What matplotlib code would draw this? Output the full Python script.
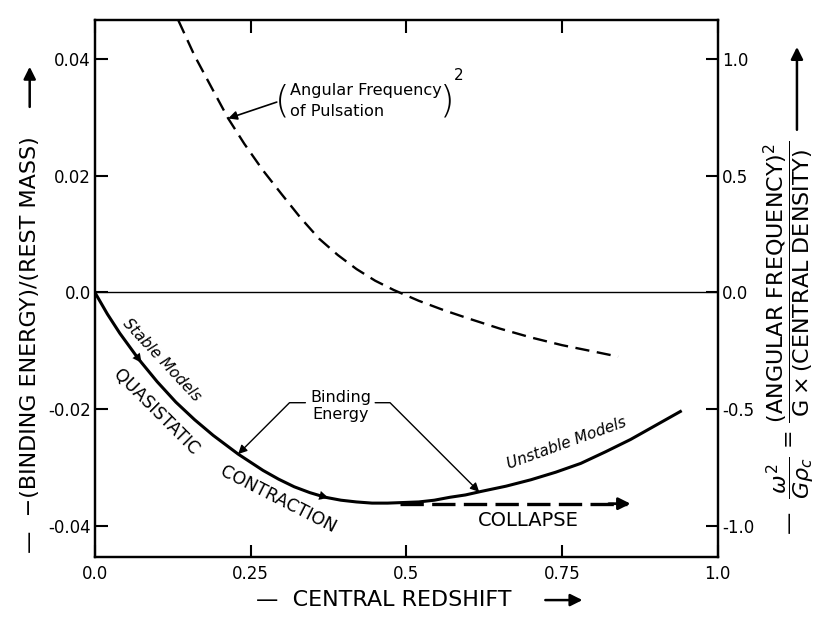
import matplotlib
matplotlib.use('Agg')
import matplotlib.pyplot as plt
import numpy as np

# binding energy / rest mass against central redshift (left axis)
redshift_be = [0.0, 0.02, 0.04, 0.07, 0.10, 0.13, 0.16, 0.19, 0.23, 0.27,
               0.295, 0.32, 0.345, 0.37, 0.395, 0.42, 0.445, 0.47, 0.495,
               0.52, 0.545, 0.57, 0.595, 0.62, 0.66, 0.70, 0.74, 0.78, 0.82,
               0.86, 0.90, 0.94]
binding_energy = [0.0, -0.0037, -0.0070, -0.0114, -0.0153, -0.0188, -0.0218,
                  -0.0245, -0.0277, -0.0305, -0.0320, -0.0333, -0.0343,
                  -0.0351, -0.0356, -0.0359, -0.0361, -0.0361, -0.0360,
                  -0.0359, -0.0356, -0.0351, -0.0347, -0.0341, -0.0332,
                  -0.0321, -0.0308, -0.0293, -0.0273, -0.0252, -0.0228, -0.0204]

# (angular frequency)^2 / (G rho_c) of pulsation (right axis)
redshift_w2 = [0.134, 0.16, 0.19, 0.214, 0.24, 0.27, 0.30, 0.33, 0.36, 0.39,
               0.42, 0.45, 0.48, 0.52, 0.56, 0.60, 0.65, 0.70, 0.75, 0.80, 0.84]
omega_sq = [1.165, 1.014, 0.864, 0.745, 0.636, 0.522, 0.42, 0.32, 0.23, 0.16,
            0.10, 0.05, 0.01, -0.036, -0.076, -0.112, -0.155, -0.193, -0.226,
            -0.253, -0.275]

# collapse path (left axis)
collapse_x = [0.49, 0.855]
collapse_y = [-0.0362, -0.0362]

x_ticks = [0.0, 0.25, 0.5, 0.75, 1.0]
x_tick_labels = ['0.0', '0.25', '0.5', '0.75', '1.0']
left_ticks = [0.04, 0.02, 0.0, -0.02, -0.04]
left_tick_labels = ['0.04', '0.02', '0.0', '-0.02', '-0.04']
right_ticks = [1.0, 0.5, 0.0, -0.5, -1.0]
right_tick_labels = ['1.0', '0.5', '0.0', '-0.5', '-1.0']

left_lim = (-0.0453, 0.0467)
right_scale = 25.0  # right axis units per left axis unit

fig = plt.figure(figsize=(8.25, 6.18), dpi=100)
ax = fig.add_axes([0.115, 0.099, 0.755, 0.869])
ax2 = ax.twinx()

ax.set_xlim(0, 1.0)
ax.set_ylim(*left_lim)
ax2.set_ylim(left_lim[0] * right_scale, left_lim[1] * right_scale)

for a in (ax, ax2):
    for sp in a.spines.values():
        sp.set_linewidth(1.6)

ax.set_xticks(x_ticks, x_tick_labels)
ax.set_yticks(left_ticks, left_tick_labels)
ax2.set_yticks(right_ticks, right_tick_labels)
ax.tick_params(direction='in', length=9, width=1.5, labelsize=12, pad=3, top=True)
ax.tick_params(axis='x', pad=6)
ax2.tick_params(direction='in', length=9, width=1.5, labelsize=12, pad=3)

# zero line
ax.axhline(0, color='black', lw=1.0)

# binding energy
ax.plot(redshift_be, binding_energy, color='black', lw=2.2)

# arrowheads along binding energy curve
for xa, xb in [(0.055, 0.075), (0.35, 0.375)]:
    ax.annotate('', xy=(xb, np.interp(xb, redshift_be, binding_energy)),
                xytext=(xa, np.interp(xa, redshift_be, binding_energy)),
                arrowprops=dict(arrowstyle='-|>', color='black', lw=0.1,
                                mutation_scale=16, shrinkA=0, shrinkB=0))

# pulsation frequency squared
ax2.plot(redshift_w2, omega_sq, color='black', lw=1.7, dashes=(6, 3.2))

# collapse
ax.plot(collapse_x, collapse_y, color='black', lw=2.4, dashes=(7, 2.5))
ax.annotate('', xy=(collapse_x[1] + 0.005, collapse_y[1]),
            xytext=(collapse_x[1] - 0.03, collapse_y[1]),
            arrowprops=dict(arrowstyle='-|>', color='black', lw=2.0,
                            mutation_scale=18, shrinkA=0, shrinkB=0))

# text on the curves
ax.text(0.108, -0.0116, 'Stable Models', rotation=-47, fontsize=11,
        style='italic', ha='center', va='center', rotation_mode='anchor')
ax.text(0.098, -0.0205, 'QUASISTATIC', rotation=-45, fontsize=12.5,
        ha='center', va='center', rotation_mode='anchor')
ax.text(0.295, -0.0355, 'CONTRACTION', rotation=-27, fontsize=12.5,
        ha='center', va='center', rotation_mode='anchor')
ax.text(0.758, -0.0258, 'Unstable Models', rotation=20, fontsize=11,
        style='italic', ha='center', va='center', rotation_mode='anchor')
ax.text(0.696, -0.0390, 'COLLAPSE', fontsize=14, ha='center', va='center')

# binding energy label with two bent arrows
ax.text(0.395, -0.0195, 'Binding\nEnergy', fontsize=11.5, ha='center',
        va='center', linespacing=1.15)
ax.annotate('', xy=(0.23, np.interp(0.23, redshift_be, binding_energy)),
            xytext=(0.338, -0.0189),
            arrowprops=dict(arrowstyle='-|>', color='black', lw=1.0,
                            mutation_scale=13, shrinkA=0, shrinkB=0,
                            connectionstyle='angle,angleA=0,angleB=45,rad=0'))
ax.annotate('', xy=(0.617, np.interp(0.617, redshift_be, binding_energy)),
            xytext=(0.450, -0.0189),
            arrowprops=dict(arrowstyle='-|>', color='black', lw=1.0,
                            mutation_scale=13, shrinkA=0, shrinkB=0,
                            connectionstyle='angle,angleA=0,angleB=-45,rad=0'))

# pulsation label
ax.text(0.313, 0.0328, 'Angular Frequency\nof Pulsation', fontsize=11.6,
        ha='left', va='center', linespacing=1.45)
ax.text(0.301, 0.0328, '(', fontsize=27, ha='center', va='center',
        fontweight='light')
ax.text(0.566, 0.0328, ')', fontsize=27, ha='center', va='center',
        fontweight='light')
ax.text(0.584, 0.0372, '2', fontsize=11, ha='center', va='center')
x_tip = 0.214
ax.annotate('', xy=(x_tip, np.interp(x_tip, redshift_w2, omega_sq) / right_scale),
            xytext=(0.292, 0.0326),
            arrowprops=dict(arrowstyle='-|>', color='black', lw=1.2,
                            mutation_scale=13, shrinkA=0, shrinkB=0))


def fig_arrow(start, end):
    ax.annotate('', xy=end, xytext=start, xycoords='figure fraction',
                textcoords='figure fraction', annotation_clip=False,
                arrowprops=dict(arrowstyle='-|>', color='black', lw=1.8,
                                mutation_scale=18, shrinkA=0, shrinkB=0))


# axis labels
fig.text(0.036, 0.442, '—  \u2212(BINDING ENERGY)/(REST MASS)', rotation=90,
         fontsize=16, ha='center', va='center')
fig_arrow((0.036, 0.827), (0.036, 0.892))

fig.text(0.465, 0.029, '—  CENTRAL REDSHIFT', fontsize=16,
         ha='center', va='center')
fig_arrow((0.661, 0.029), (0.706, 0.029))

fig.text(0.957, 0.453,
         r'—  $\dfrac{\omega^2}{G\rho_c}$ = '
         r'$\dfrac{\mathrm{(ANGULAR\ FREQUENCY)}^2}{\mathrm{G\times(CENTRAL\ DENSITY)}}$',
         rotation=90, fontsize=16, ha='center', va='center')
fig_arrow((0.966, 0.79), (0.966, 0.924))

fig.savefig('out.png', dpi=100)
